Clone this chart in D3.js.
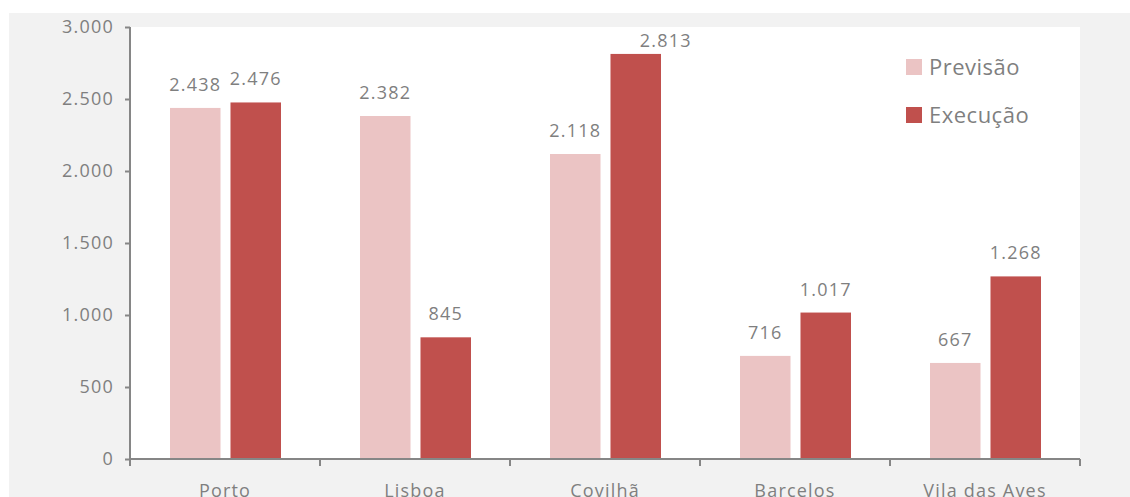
<!DOCTYPE html>
<html><head><meta charset="utf-8">
<script src="https://cdn.jsdelivr.net/npm/d3@7"></script>
<style>body{margin:0;background:#fff}svg{display:block}text{font-family:"Open Sans","Noto Sans",sans-serif;fill:#7f7f7f}</style>
</head><body><svg id="c" width="1130" height="497"></svg>
<script>
const categories = ["Porto","Lisboa","Covilhã","Barcelos","Vila das Aves"];
const seriesNames = ["Previsão","Execução"];
const previsao = [2438,2382,2118,716,667];
const execucao = [2476,845,2813,1017,1268];
const yTicks = [0,500,1000,1500,2000,2500,3000];
const colors = ["#EBC4C4","#C0504D"];

const svg = d3.select("#c");
const L=130,R=1080,T=27,B=459;
const FS=18, LS="1.2px";
svg.append("rect").attr("x",9).attr("y",13).attr("width",1130-9).attr("height",497-13).attr("fill","#f2f2f2");
svg.append("rect").attr("x",L).attr("y",T).attr("width",R-L).attr("height",B-T).attr("fill","#fff");

const x = d3.scaleBand().domain(categories).range([L,R]).padding(0);
const y = d3.scaleLinear().domain([0,3000]).range([B,T]);
const fmt = d3.formatLocale({decimal:",",thousands:".",grouping:[3],currency:["","€"]}).format(",d");

const series=[previsao,execucao];
const bw = x.bandwidth();
const inner = d3.scaleBand().domain([0,1]).range([40,bw-39]).paddingInner(0.165);

series.forEach((vals,si)=>{
  const g=svg.append("g");
  g.selectAll("rect").data(vals).join("rect")
   .attr("x",(d,i)=>x(categories[i])+inner(si))
   .attr("y",d=>y(d)).attr("width",inner.bandwidth()).attr("height",d=>B-y(d))
   .attr("fill",colors[si]);
  g.selectAll("text").data(vals).join("text")
   .each(function(d,i){
     const cx = x(categories[i])+inner(si)+inner.bandwidth()/2;
     const crowded = y(d)-17-14 < T;
     d3.select(this).attr("x", crowded ? cx+30 : cx).attr("y", crowded ? y(d)-7 : y(d)-17);
   })
   .attr("text-anchor","middle").attr("font-size",FS).attr("letter-spacing",LS).text(d=>fmt(d));
});

// y axis
const ya = svg.append("g").attr("transform",`translate(${L},0)`)
  .call(d3.axisLeft(y).tickValues(yTicks).tickFormat(fmt).tickSize(5).tickPadding(11));
ya.select(".domain").attr("stroke","#868686").attr("stroke-width",2).attr("d",`M0,${T}V${B}`);
ya.selectAll(".tick line").attr("stroke","#868686").attr("stroke-width",2);
ya.selectAll(".tick text").attr("font-size",FS).attr("letter-spacing",LS).attr("fill","#7f7f7f").attr("font-family","'Open Sans','Noto Sans',sans-serif");

// x axis
const xa = svg.append("g").attr("transform",`translate(0,${B})`)
  .call(d3.axisBottom(x).tickSize(0).tickPadding(0));
xa.select(".domain").attr("stroke","#868686").attr("stroke-width",2).attr("d",`M${L},0H${R}`);
xa.selectAll(".tick text").attr("dy",null).attr("y",38).attr("font-size",FS).attr("letter-spacing",LS).attr("fill","#7f7f7f").attr("font-family","'Open Sans','Noto Sans',sans-serif");
const bounds=[...categories.map(c=>x(c)),R];
xa.selectAll(".sep").data(bounds).join("line").attr("class","sep")
  .attr("x1",d=>d).attr("x2",d=>d).attr("y1",0).attr("y2",7).attr("stroke","#868686").attr("stroke-width",2);

// legend
const lg=svg.append("g");
seriesNames.forEach((n,i)=>{
  lg.append("rect").attr("x",906).attr("y",59+48*i).attr("width",16).attr("height",16).attr("fill",colors[i]);
  lg.append("text").attr("x",929).attr("y",75+48*i).attr("font-size",22).attr("letter-spacing","0.5px").text(n);
});
</script></body></html>
